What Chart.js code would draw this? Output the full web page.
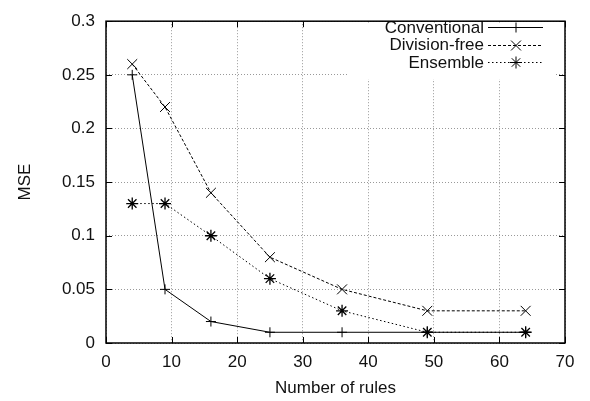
<!DOCTYPE html>
<html>
<head>
<meta charset="utf-8">
<script src="https://cdn.jsdelivr.net/npm/chart.js@4.4.0/dist/chart.umd.min.js"></script>
<style>
  html, body { margin: 0; padding: 0; background: #fff; }
  #wrap { width: 590px; height: 401px; }
</style>
</head>
<body>
<div id="wrap"><canvas id="myChart" width="590" height="401"></canvas></div>
<script>
// number of rules on the x axis
const rules = [4, 9, 16, 25, 36, 49, 64];
// MSE per method
const conventional = [0.25, 0.05, 0.02, 0.01, 0.01, 0.01, 0.01];
const divisionFree = [0.26, 0.22, 0.14, 0.08, 0.05, 0.03, 0.03];
const ensemble = [0.13, 0.13, 0.10, 0.06, 0.03, 0.01, 0.01];

const xTickLabels = ['0', '10', '20', '30', '40', '50', '60', '70'];
const yTickLabels = ['0', '0.05', '0.1', '0.15', '0.2', '0.25', '0.3'];

const fontFam = '"Liberation Sans", Arial, Helvetica, sans-serif';

function pts(ys) {
    return rules.map((x, i) => ({ x: x, y: ys[i] }));
}

// gnuplot style frame, inner tick marks and legend
const framePlugin = {
    id: 'frame',
    afterDatasetsDraw(chart) {
        const ctx = chart.ctx;
        const a = chart.chartArea;
        const xs = chart.scales.x, ys = chart.scales.y;
        ctx.save();
        ctx.strokeStyle = '#000';
        ctx.lineWidth = 1;
        ctx.setLineDash([]);
        // tick marks pointing inward
        ctx.beginPath();
        xs.ticks.forEach(t => {
            const px = Math.round(xs.getPixelForValue(t.value)) + 0.5;
            ctx.moveTo(px, a.bottom); ctx.lineTo(px, a.bottom - 6);
            ctx.moveTo(px, a.top); ctx.lineTo(px, a.top + 6);
        });
        ys.ticks.forEach(t => {
            const py = Math.round(ys.getPixelForValue(t.value)) + 0.5;
            ctx.moveTo(a.left, py); ctx.lineTo(a.left + 6, py);
            ctx.moveTo(a.right, py); ctx.lineTo(a.right - 6, py);
        });
        ctx.stroke();

        // legend
        ctx.fillStyle = '#fff';
        ctx.fillRect(347, a.top + 1, 208, 57);
        ctx.font = '17px ' + fontFam;
        ctx.textAlign = 'right';
        ctx.textBaseline = 'middle';
        chart.data.datasets.forEach((ds, i) => {
            const y = 27 + i * 17.5;
            ctx.fillStyle = '#111';
            ctx.fillText(ds.label, 484, y + 1);
            ctx.beginPath();
            ctx.setLineDash(ds.borderDash || []);
            ctx.moveTo(488, Math.round(y) + 0.5);
            ctx.lineTo(543, Math.round(y) + 0.5);
            ctx.stroke();
            ctx.setLineDash([]);
            Chart.helpers.drawPoint(ctx, {
                pointStyle: ds.pointStyle,
                radius: ds.pointRadius,
                rotation: 0,
                borderWidth: 1
            }, 516, Math.round(y) + 0.5);
        });

        // frame
        ctx.lineWidth = 1.5;
        ctx.strokeRect(a.left, a.top, a.right - a.left, a.bottom - a.top);
        ctx.restore();
    }
};

const ctx = document.getElementById('myChart').getContext('2d');
const myChart = new Chart(ctx, {
    type: 'line',
    data: {
        datasets: [
            {
                label: 'Conventional',
                data: pts(conventional),
                borderColor: '#000',
                borderWidth: 1,
                pointStyle: 'cross',
                pointRadius: 5,
                pointBorderColor: '#000',
                pointBorderWidth: 1
            },
            {
                label: 'Division-free',
                data: pts(divisionFree),
                borderColor: '#000',
                borderWidth: 1,
                borderDash: [3, 2],
                pointStyle: 'crossRot',
                pointRadius: 7,
                pointBorderColor: '#000',
                pointBorderWidth: 1
            },
            {
                label: 'Ensemble',
                data: pts(ensemble),
                borderColor: '#000',
                borderWidth: 1,
                borderDash: [1.5, 2.5],
                pointStyle: 'star',
                pointRadius: 6,
                pointBorderColor: '#000',
                pointBorderWidth: 1.3
            }
        ]
    },
    options: {
        responsive: false,
        animation: false,
        layout: { padding: { left: 0, right: 25, top: 13, bottom: 0 } },
        plugins: {
            legend: { display: false },
            tooltip: { enabled: false }
        },
        elements: { line: { tension: 0, fill: false } },
        scales: {
            x: {
                type: 'linear',
                min: 0,
                max: 70,
                afterFit: s => { s.height = 58; },
                ticks: {
                    stepSize: 10,
                    padding: 9,
                    color: '#111',
                    font: { family: fontFam, size: 17 },
                    callback: (v, i) => xTickLabels[i]
                },
                grid: { color: '#999', drawTicks: false, lineWidth: 1 },
                border: { display: false, dash: [1, 2] },
                title: {
                    display: true,
                    text: 'Number of rules',
                    color: '#111',
                    font: { family: fontFam, size: 17 },
                    padding: { top: 0, bottom: 2 }
                }
            },
            y: {
                min: 0,
                max: 0.3,
                afterFit: s => { s.width = 106; },
                ticks: {
                    stepSize: 0.05,
                    padding: 11,
                    color: '#111',
                    font: { family: fontFam, size: 17 },
                    callback: (v, i) => yTickLabels[i]
                },
                grid: { color: '#999', drawTicks: false, lineWidth: 1 },
                border: { display: false, dash: [1, 2] },
                title: {
                    display: true,
                    text: 'MSE',
                    color: '#111',
                    font: { family: fontFam, size: 17 },
                    padding: { top: 15, bottom: 0 }
                }
            }
        }
    },
    plugins: [framePlugin]
});
</script>
</body>
</html>
